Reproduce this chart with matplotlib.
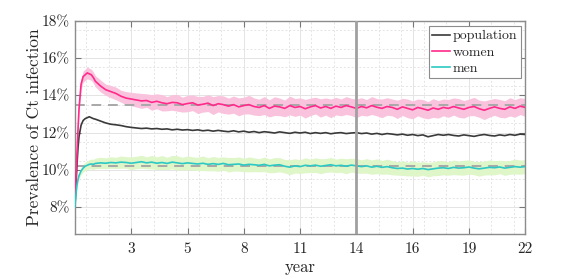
import numpy as np
import matplotlib
matplotlib.use('Agg')
import matplotlib.pyplot as plt
from matplotlib.ticker import FixedLocator

plt.rcParams['font.family'] = ['cmr10', 'DejaVu Serif']
plt.rcParams['axes.unicode_minus'] = False

# time grid (years): dense at the start, then quarterly
early_years = [0, 0.05, 0.1, 0.15, 0.2, 0.3, 0.4, 0.5, 0.6, 0.7, 0.8, 0.9]
years = np.concatenate([early_years, np.arange(1.0, 22.001, 0.25)])

women = [8.2, 9.5, 10.9, 12.2, 13.3, 14.6, 15.0, 15.1, 15.2, 15.15, 15.1, 14.95,
         14.75, 14.5, 14.3, 14.2,
         14.1, 13.95, 13.85, 13.8,
         13.75, 13.7, 13.72, 13.62,
         13.68, 13.6, 13.55, 13.62,
         13.6, 13.5, 13.56, 13.6,
         13.48, 13.52, 13.58, 13.45,
         13.55, 13.5, 13.42, 13.5,
         13.38, 13.45, 13.5, 13.4,
         13.35, 13.45, 13.3, 13.42,
         13.38, 13.3, 13.45, 13.35,
         13.4, 13.28, 13.38, 13.45,
         13.32, 13.4, 13.3, 13.42,
         13.35, 13.45, 13.38, 13.3,
         13.4, 13.33, 13.45, 13.36,
         13.3, 13.4, 13.35, 13.25,
         13.38, 13.3, 13.22, 13.35,
         13.28, 13.2, 13.32, 13.25,
         13.35, 13.3, 13.4, 13.32,
         13.25, 13.35, 13.4, 13.28,
         13.2, 13.3, 13.38, 13.3,
         13.25, 13.38, 13.3, 13.42,
         13.35]

population = [8.1, 9.2, 10.3, 11.2, 11.8, 12.4, 12.65, 12.75, 12.8, 12.85, 12.8, 12.75,
              12.72, 12.62, 12.52, 12.45,
              12.42, 12.38, 12.32, 12.28,
              12.25, 12.22, 12.24, 12.2,
              12.22, 12.18, 12.2, 12.15,
              12.18, 12.14, 12.16, 12.12,
              12.15, 12.1, 12.13, 12.08,
              12.12, 12.08, 12.05, 12.1,
              12.04, 12.08, 12.02, 12.06,
              12.0, 12.05, 12.02, 11.98,
              12.04, 12.0, 11.96, 12.02,
              11.98, 12.02, 11.95, 12.0,
              11.96, 12.0, 11.94, 11.98,
              12.0, 11.95, 11.98, 12.0,
              11.95, 11.98, 11.92, 11.96,
              11.9, 11.95, 11.92, 11.88,
              11.92, 11.86, 11.9, 11.84,
              11.88, 11.78, 11.84, 11.9,
              11.86, 11.9, 11.85, 11.82,
              11.88, 11.84, 11.8, 11.86,
              11.9, 11.85, 11.82, 11.88,
              11.84, 11.9, 11.86, 11.92,
              11.9]

men = [8.0, 8.7, 9.2, 9.5, 9.7, 9.95, 10.1, 10.2, 10.25, 10.3, 10.32, 10.3,
       10.35, 10.38, 10.36, 10.4,
       10.38, 10.42, 10.4, 10.36,
       10.4, 10.44, 10.38, 10.42,
       10.36, 10.4, 10.35, 10.42,
       10.38, 10.34, 10.38, 10.35,
       10.32, 10.36, 10.3, 10.34,
       10.3, 10.35, 10.28, 10.3,
       10.32, 10.26, 10.3, 10.28,
       10.25, 10.3, 10.22, 10.26,
       10.28, 10.2, 10.15, 10.22,
       10.18, 10.25, 10.22, 10.26,
       10.2, 10.24, 10.28, 10.22,
       10.25, 10.2, 10.26, 10.22,
       10.18, 10.22, 10.15, 10.2,
       10.14, 10.18, 10.12, 10.08,
       10.1, 10.05, 10.08, 10.04,
       10.08, 10.02, 10.06, 10.1,
       10.12, 10.08, 10.14, 10.1,
       10.12, 10.16, 10.1, 10.06,
       10.1, 10.14, 10.12, 10.16,
       10.1, 10.14, 10.18, 10.15,
       10.18]

# half-width of the shaded bands
women_hw = [0.05, 0.1, 0.15, 0.2, 0.25, 0.3, 0.3, 0.3, 0.32, 0.3, 0.3, 0.3,
            0.3, 0.32, 0.3, 0.33,
            0.34, 0.32, 0.35, 0.36,
            0.38, 0.4, 0.36, 0.42,
            0.4, 0.44, 0.38, 0.42,
            0.45, 0.4, 0.44, 0.42,
            0.46, 0.42, 0.45, 0.48,
            0.44, 0.47, 0.43, 0.46,
            0.48, 0.45, 0.5, 0.46,
            0.44, 0.48, 0.46, 0.5,
            0.47, 0.45, 0.5, 0.48,
            0.46, 0.5, 0.47, 0.45,
            0.49, 0.46, 0.5, 0.47,
            0.45, 0.48, 0.46, 0.5,
            0.47, 0.44, 0.48, 0.46,
            0.5, 0.47, 0.45, 0.49,
            0.46, 0.5, 0.48, 0.45,
            0.49, 0.46, 0.5, 0.47,
            0.45, 0.48, 0.46, 0.5,
            0.47, 0.45, 0.49, 0.46,
            0.5, 0.47, 0.45, 0.48,
            0.46, 0.49, 0.47, 0.45,
            0.48]

men_hw = [0.02, 0.05, 0.1, 0.12, 0.15, 0.18, 0.2, 0.22, 0.24, 0.25, 0.26, 0.27,
          0.28, 0.3, 0.29, 0.31,
          0.3, 0.33, 0.31, 0.34,
          0.33, 0.35, 0.32, 0.36,
          0.34, 0.37, 0.33, 0.36,
          0.38, 0.34, 0.37, 0.35,
          0.36, 0.39, 0.35, 0.38,
          0.37, 0.35, 0.39, 0.36,
          0.38, 0.36, 0.4, 0.37,
          0.35, 0.39, 0.37, 0.4,
          0.38, 0.36, 0.4, 0.38,
          0.37, 0.4, 0.36, 0.39,
          0.4, 0.37, 0.39, 0.36,
          0.38, 0.4, 0.37, 0.39,
          0.36, 0.39, 0.38, 0.4,
          0.37, 0.4, 0.38, 0.36,
          0.39, 0.37, 0.4, 0.38,
          0.36, 0.39, 0.37, 0.4,
          0.38, 0.36, 0.39, 0.37,
          0.4, 0.38, 0.36, 0.39,
          0.37, 0.4, 0.38, 0.36,
          0.39, 0.37, 0.4, 0.38,
          0.37]

women_ref = 13.5
men_ref = 10.2
split_year = 13.75

xtick_pos = [2.75, 5.5, 8.25, 11, 13.75, 16.5, 19.25, 22]
xtick_labels = ['3', '5', '8', '11', '14', '16', '19', '22']
ytick_pos = [8, 10, 12, 14, 16, 18]

women = np.array(women)
men = np.array(men)
women_hw = np.array(women_hw)
men_hw = np.array(men_hw)

fig = plt.figure(figsize=(5.81, 2.79), dpi=100)
ax = fig.add_axes([0.129, 0.160, 0.775, 0.766])

ax.fill_between(years, women - women_hw, women + women_hw, color='#f9c3de', lw=0, zorder=1)
ax.fill_between(years, men - men_hw, men + men_hw, color='#def6c8', lw=0, zorder=1)
ax.axhline(women_ref, color='#a8a8a8', lw=1.4, dashes=(5, 3.5), zorder=2)
ax.axhline(men_ref, color='#a8a8a8', lw=1.4, dashes=(5, 3.5), zorder=2)

ax.plot(years, population, color='#3a3a3a', lw=1.2, label='population', zorder=3)
ax.plot(years, women, color='#ff2a8a', lw=1.2, label='women', zorder=3)
ax.plot(years, men, color='#2cc8c4', lw=1.2, label='men', zorder=3)

ax.axvline(split_year, color='#a0a0a0', lw=2, zorder=4)

ax.set_xlim(0, 22)
ax.set_ylim(6.55, 18)
ax.set_xticks(xtick_pos)
ax.set_xticklabels(xtick_labels)
ax.set_yticks(ytick_pos)
ax.set_yticklabels([f'{v}%' for v in ytick_pos])
ax.xaxis.set_minor_locator(FixedLocator(np.arange(0.55, 22, 1.1)))
ax.yaxis.set_minor_locator(FixedLocator(np.arange(7.5, 18, 1.0)))

ax.grid(True, which='major', color='#e4e4e4', lw=0.7)
ax.grid(True, which='minor', color='#e4e4e4', lw=0.7, ls=(0, (2, 2)))
ax.set_axisbelow(True)

ax.tick_params(which='major', direction='in', length=4, width=0.8, color='#777777',
               top=True, right=True, labelsize=11, labelcolor='#262626')
ax.tick_params(axis='x', which='major', pad=6)
ax.tick_params(which='minor', length=0)
for s in ax.spines.values():
    s.set_color('#8c8c8c')
    s.set_linewidth(1.0)

ax.set_xlabel('year', fontsize=12, color='#262626', labelpad=2)
ax.set_ylabel('Prevalence of Ct infection', fontsize=12.5, color='#262626', labelpad=0)

leg = ax.legend(loc='upper right', bbox_to_anchor=(0.991, 0.974), fontsize=10,
                handlelength=1.3, handletextpad=0.2, borderpad=0.25, labelspacing=0.25,
                borderaxespad=0, fancybox=False, framealpha=1)
leg.get_frame().set_edgecolor('#8c8c8c')
leg.get_frame().set_linewidth(0.8)
for t in leg.get_texts():
    t.set_color('#262626')

fig.savefig('out.png', dpi=100)
